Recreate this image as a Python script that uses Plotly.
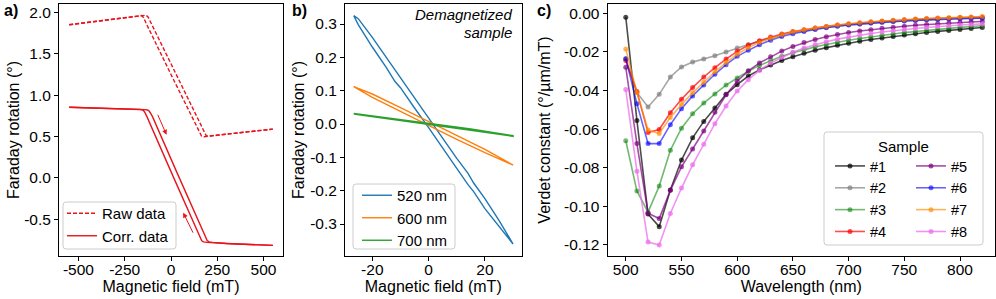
import plotly.graph_objects as go

# ---------------- data ----------------
# panel a: Faraday rotation vs field (two sweep branches each)
raw_up_field = [-550, -350, -200, -170, -158, -148, -135, 0, 100, 145, 155, 165, 178, 250, 400, 550]
raw_up_rot = [1.850, 1.908, 1.951, 1.960, 1.960, 1.935, 1.870, 1.249, 0.791, 0.585, 0.535, 0.505, 0.497, 0.517, 0.553, 0.589]
raw_dn_field = [-550, -350, -200, -150, -135, -123, -110, 0, 100, 170, 180, 190, 203, 250, 400, 550]
raw_dn_rot = [1.850, 1.908, 1.951, 1.966, 1.965, 1.940, 1.880, 1.373, 0.915, 0.594, 0.550, 0.510, 0.505, 0.517, 0.553, 0.589]
corr_up_field = [-550, -350, -200, -165, -155, -147, -140, -130, 0, 150, 158, 166, 176, 195, 300, 550]
corr_up_rot = [0.853, 0.843, 0.834, 0.826, 0.822, 0.810, 0.785, 0.740, 0.076, -0.690, -0.735, -0.760, -0.773, -0.778, -0.792, -0.815]
corr_dn_field = [-550, -350, -200, -140, -127, -119, -112, -100, 30, 180, 188, 196, 206, 225, 300, 550]
corr_dn_rot = [0.853, 0.843, 0.834, 0.824, 0.820, 0.810, 0.787, 0.740, 0.076, -0.690, -0.730, -0.758, -0.772, -0.778, -0.792, -0.815]
# sweep-direction arrows (tail -> head) in data units
arrow_tail_field = [-75, 123]
arrow_tail_rot = [0.78, -0.68]
arrow_head_field = [-24, 66]
arrow_head_rot = [0.52, -0.42]

# panel b: demagnetized sample, three wavelengths (upper / lower branch)
b_labels = ["520 nm", "600 nm", "700 nm"]
b_colors = ["#1f77b4", "#ff7f0e", "#2ca02c"]
b520_field = [-26.6, -25, -20, -15, -12, -10, -5, 0, 5, 10, 14, 16, 20, 25, 30]
b520_upper = [0.325, 0.316, 0.260, 0.199, 0.166, 0.140, 0.078, 0.017, -0.043, -0.103, -0.148, -0.177, -0.224, -0.289, -0.360]
b520_lower = [0.325, 0.298, 0.231, 0.169, 0.128, 0.109, 0.048, -0.011, -0.071, -0.133, -0.182, -0.203, -0.254, -0.308, -0.360]
b600_field = [-26.6, -20, -10, 0, 10, 20, 30]
b600_upper = [0.112, 0.090, 0.049, 0.008, -0.034, -0.076, -0.123]
b600_lower = [0.112, 0.080, 0.037, -0.004, -0.046, -0.086, -0.123]
b700_field = [-26.6, -13, 0, 15, 30]
b700_upper = [0.032, 0.017, 0.002, -0.015, -0.035]
b700_lower = [0.030, 0.013, -0.002, -0.019, -0.037]

# panel c: Verdet constant spectra
wavelength = [500, 510, 520, 530, 540, 550, 560, 570, 580, 590, 600, 610, 620, 630, 640, 650, 660,
              670, 680, 690, 700, 710, 720, 730, 740, 750, 760, 770, 780, 790, 800, 810, 820]
s1 = [-0.0020, -0.0555, -0.1040, -0.1105, -0.0915, -0.0760, -0.0645, -0.0560, -0.0490, -0.0420, -0.0370,
      -0.0325, -0.0293, -0.0268, -0.0245, -0.0225, -0.0207, -0.0192, -0.0178, -0.0166, -0.0155, -0.0145,
      -0.0136, -0.0128, -0.0120, -0.0113, -0.0106, -0.0100, -0.0094, -0.0089, -0.0084, -0.0079, -0.0074]
s2 = [-0.0235, -0.0410, -0.0485, -0.0420, -0.0330, -0.0278, -0.0253, -0.0237, -0.0220, -0.0200, -0.0180,
      -0.0162, -0.0145, -0.0128, -0.0113, -0.0100, -0.0090, -0.0081, -0.0073, -0.0066, -0.0060, -0.0055,
      -0.0050, -0.0046, -0.0042, -0.0039, -0.0036, -0.0033, -0.0031, -0.0029, -0.0027, -0.0025, -0.0024]
s3 = [-0.0660, -0.0920, -0.1030, -0.0895, -0.0710, -0.0595, -0.0520, -0.0465, -0.0418, -0.0372, -0.0335,
      -0.0300, -0.0270, -0.0245, -0.0222, -0.0204, -0.0188, -0.0174, -0.0162, -0.0150, -0.0140, -0.0131,
      -0.0122, -0.0114, -0.0107, -0.0100, -0.0094, -0.0088, -0.0083, -0.0078, -0.0073, -0.0069, -0.0065]
s4 = [-0.0245, -0.0405, -0.0618, -0.0602, -0.0515, -0.0445, -0.0385, -0.0330, -0.0282, -0.0237, -0.0197,
      -0.0166, -0.0142, -0.0123, -0.0107, -0.0095, -0.0085, -0.0076, -0.0068, -0.0061, -0.0055, -0.0050,
      -0.0045, -0.0041, -0.0037, -0.0034, -0.0031, -0.0028, -0.0026, -0.0024, -0.0022, -0.0020, -0.0019]
s5 = [-0.0280, -0.0675, -0.1035, -0.1063, -0.0917, -0.0795, -0.0703, -0.0610, -0.0512, -0.0422, -0.0352,
      -0.0298, -0.0257, -0.0225, -0.0196, -0.0172, -0.0152, -0.0136, -0.0122, -0.0110, -0.0100, -0.0092,
      -0.0085, -0.0078, -0.0072, -0.0067, -0.0062, -0.0058, -0.0054, -0.0051, -0.0048, -0.0045, -0.0043]
s6 = [-0.0235, -0.0468, -0.0675, -0.0675, -0.0577, -0.0494, -0.0428, -0.0372, -0.0316, -0.0266, -0.0223,
      -0.0192, -0.0163, -0.0140, -0.0120, -0.0106, -0.0094, -0.0084, -0.0075, -0.0067, -0.0061, -0.0056,
      -0.0051, -0.0047, -0.0043, -0.0040, -0.0037, -0.0034, -0.0032, -0.0030, -0.0028, -0.0027, -0.0026]
s7 = [-0.0185, -0.0410, -0.0605, -0.0623, -0.0540, -0.0473, -0.0412, -0.0357, -0.0303, -0.0255, -0.0212,
      -0.0178, -0.0151, -0.0129, -0.0111, -0.0097, -0.0086, -0.0076, -0.0068, -0.0061, -0.0054, -0.0049,
      -0.0044, -0.0040, -0.0036, -0.0033, -0.0030, -0.0027, -0.0025, -0.0023, -0.0021, -0.0019, -0.0017]
s8 = [-0.0395, -0.0818, -0.1185, -0.1200, -0.1037, -0.0905, -0.0785, -0.0678, -0.0572, -0.0480, -0.0403,
      -0.0344, -0.0296, -0.0258, -0.0228, -0.0202, -0.0180, -0.0162, -0.0147, -0.0134, -0.0123, -0.0113,
      -0.0105, -0.0097, -0.0090, -0.0084, -0.0079, -0.0074, -0.0069, -0.0065, -0.0061, -0.0058, -0.0055]
sample_names = ["#1", "#2", "#3", "#4", "#5", "#6", "#7", "#8"]
sample_values = [s1, s2, s3, s4, s5, s6, s7, s8]
sample_colors = ["rgba(0,0,0,0.7)", "rgba(128,128,128,0.7)", "rgba(0,128,0,0.55)", "rgba(255,0,0,0.7)",
                 "rgba(128,0,128,0.7)", "rgba(0,0,255,0.6)", "rgba(255,140,0,0.65)", "rgba(238,110,238,0.75)"]

# tick labels
a_xticks = [-500, -250, 0, 250, 500]
a_xtext = ["-500", "-250", "0", "250", "500"]
a_yticks = [-0.5, 0.0, 0.5, 1.0, 1.5, 2.0]
a_ytext = ["-0.5", "0.0", "0.5", "1.0", "1.5", "2.0"]
b_xticks = [-20, 0, 20]
b_xtext = ["-20", "0", "20"]
b_yticks = [-0.3, -0.2, -0.1, 0.0, 0.1, 0.2, 0.3]
b_ytext = ["-0.3", "-0.2", "-0.1", "0.0", "0.1", "0.2", "0.3"]
c_xticks = [500, 550, 600, 650, 700, 750, 800]
c_xtext = ["500", "550", "600", "650", "700", "750", "800"]
c_yticks = [-0.12, -0.10, -0.08, -0.06, -0.04, -0.02, 0.0]
c_ytext = ["-0.12", "-0.10", "-0.08", "-0.06", "-0.04", "-0.02", "0.00"]

# ---------------- layout helpers ----------------
W, H = 996, 299
FONT = "Liberation Sans, Arial, sans-serif"
TICK = 15.5
TITLE = 16
LEG = 15


def fx(p):
    return p / W


def fy(p):
    return 1 - p / H


def rounded_box(x0, y0, x1, y1, r=3):
    X0, X1, Y0, Y1 = fx(x0), fx(x1), fy(y0), fy(y1)
    rx, ry = r / W, r / H
    return (f"M{X0 + rx},{Y0} L{X1 - rx},{Y0} Q{X1},{Y0} {X1},{Y0 - ry} "
            f"L{X1},{Y1 + ry} Q{X1},{Y1} {X1 - rx},{Y1} L{X0 + rx},{Y1} "
            f"Q{X0},{Y1} {X0},{Y1 + ry} L{X0},{Y0 - ry} Q{X0},{Y0} {X0 + rx},{Y0} Z")


fig = go.Figure()

RED = "#e8141c"
# panel a
fig.add_trace(go.Scatter(x=raw_up_field + [None] + raw_dn_field, y=raw_up_rot + [None] + raw_dn_rot,
                         mode="lines", line=dict(color=RED, width=1.4, dash="4px,2px"),
                         name="Raw data", xaxis="x", yaxis="y", legend="legend"))
fig.add_trace(go.Scatter(x=corr_up_field + [None] + corr_dn_field, y=corr_up_rot + [None] + corr_dn_rot,
                         mode="lines", line=dict(color=RED, width=1.4),
                         name="Corr. data", xaxis="x", yaxis="y", legend="legend"))

# panel b
b_fields = [b520_field, b600_field, b700_field]
b_uppers = [b520_upper, b600_upper, b700_upper]
b_lowers = [b520_lower, b600_lower, b700_lower]
for lab, col, f, u, l in zip(b_labels, b_colors, b_fields, b_uppers, b_lowers):
    fig.add_trace(go.Scatter(x=f + f[::-1], y=u + l[::-1], mode="lines",
                             line=dict(color=col, width=1.4), name=lab,
                             xaxis="x2", yaxis="y2", legend="legend2"))

# panel c
for i, (nm, vals, col) in enumerate(zip(sample_names, sample_values, sample_colors)):
    fig.add_trace(go.Scatter(x=wavelength, y=vals, mode="lines+markers", name=nm,
                             line=dict(color=col, width=1.6), marker=dict(color=col, size=5),
                             xaxis="x3", yaxis="y3", legend="legend3" if i < 4 else "legend4"))

axis_common = dict(showline=True, linecolor="black", linewidth=1, mirror=True, ticks="outside",
                   ticklen=4, tickwidth=1, tickcolor="black", showgrid=False, zeroline=False,
                   tickfont=dict(family=FONT, size=TICK, color="black"), tickmode="array")
xaxis_extra = dict(ticklabelstandoff=-5)
ydom = [fy(256), fy(4)]

fig.update_layout(
    width=W, height=H, margin=dict(l=0, r=0, t=0, b=0),
    paper_bgcolor="white", plot_bgcolor="white",
    font=dict(family=FONT, color="black"),
    xaxis=dict(axis_common, **xaxis_extra, domain=[fx(59), fx(283)], range=[-605, 605], tickvals=a_xticks,
               ticktext=a_xtext, title=dict(text="Magnetic field (mT)", font=dict(size=TITLE), standoff=0),
               anchor="y"),
    yaxis=dict(axis_common, domain=ydom, range=[-0.943, 2.10], tickvals=a_yticks, ticktext=a_ytext,
               title=dict(text="Faraday rotation (°)", font=dict(size=TITLE), standoff=0), anchor="x"),
    xaxis2=dict(axis_common, **xaxis_extra, domain=[fx(345), fx(521.5)], range=[-29.7, 33.0], tickvals=b_xticks,
                ticktext=b_xtext, title=dict(text="Magnetic field (mT)", font=dict(size=TITLE), standoff=0),
                anchor="y2"),
    yaxis2=dict(axis_common, domain=ydom, range=[-0.396, 0.36], tickvals=b_yticks, ticktext=b_ytext,
                title=dict(text="Faraday rotation (°)", font=dict(size=TITLE), standoff=1), anchor="x2"),
    xaxis3=dict(axis_common, **xaxis_extra, domain=[fx(607.5), fx(995)], range=[483.6, 831.4], tickvals=c_xticks,
                ticktext=c_xtext, title=dict(text="Wavelength (nm)", font=dict(size=TITLE), standoff=0),
                anchor="y3"),
    yaxis3=dict(axis_common, domain=ydom, range=[-0.1257, 0.0048], tickvals=c_yticks, ticktext=c_ytext,
                title=dict(text="Verdet constant (°/µm/mT)", font=dict(size=TITLE), standoff=9), anchor="x3"),
    legend=dict(x=fx(62), y=fy(197), xanchor="left", yanchor="top", bgcolor="rgba(0,0,0,0)",
                borderwidth=0, font=dict(family=FONT, size=LEG)),
    legend2=dict(x=fx(357), y=fy(179), xanchor="left", yanchor="top", bgcolor="rgba(0,0,0,0)",
                 borderwidth=0, font=dict(family=FONT, size=LEG)),
    legend3=dict(x=fx(830), y=fy(150), xanchor="left", yanchor="top", bgcolor="rgba(0,0,0,0)",
                 borderwidth=0, font=dict(family=FONT, size=14.5)),
    legend4=dict(x=fx(911), y=fy(150), xanchor="left", yanchor="top", bgcolor="rgba(0,0,0,0)",
                 borderwidth=0, font=dict(family=FONT, size=14.5)),
    showlegend=True,
)

shape_style = dict(type="path", xref="paper", yref="paper", fillcolor="rgba(255,255,255,0.8)",
                   line=dict(color="#cccccc", width=1), layer="above")
fig.add_shape(path=rounded_box(63, 202, 176, 249), **shape_style)
fig.add_shape(path=rounded_box(353, 184, 455, 249), **shape_style)
fig.add_shape(path=rounded_box(824, 132, 983, 245), **shape_style)

# sweep arrows in panel a
for tx, ty, hx, hy in zip(arrow_tail_field, arrow_tail_rot, arrow_head_field, arrow_head_rot):
    fig.add_annotation(x=hx, y=hy, ax=tx, ay=ty, xref="x", yref="y", axref="x", ayref="y",
                       showarrow=True, arrowhead=2, arrowsize=1, arrowwidth=1, arrowcolor=RED, text="")

# texts
for txt, yp in zip(["Demagnetized", "sample"], [15, 32]):
    fig.add_annotation(x=fx(514), y=fy(yp), xref="paper", yref="paper", xanchor="right", yanchor="middle",
                       text=txt, showarrow=False,
                       font=dict(family=FONT, size=15, style="italic", color="black"))
fig.add_annotation(x=fx(903), y=fy(146), xref="paper", yref="paper", xanchor="center", yanchor="middle",
                   text="Sample", showarrow=False, font=dict(family=FONT, size=LEG, color="black"))
for lab, xp in zip(["a)", "b)", "c)"], [2, 290, 535]):
    fig.add_annotation(x=fx(xp), y=fy(11), xref="paper", yref="paper", xanchor="left", yanchor="middle",
                       text=f"<b>{lab}</b>", showarrow=False, font=dict(family=FONT, size=16, color="black"))

fig.write_html("out.html", config={"displayModeBar": False},
               post_script="document.body.style.margin='0px';")
